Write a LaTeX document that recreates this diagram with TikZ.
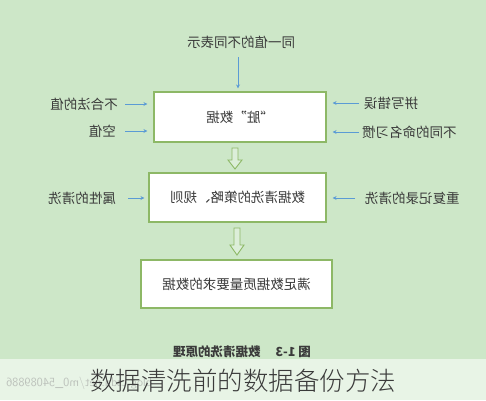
\documentclass[tikz,border=0pt]{standalone}
\usepackage{fontspec}
\usepackage{graphicx}
\newfontfamily\cjk{Noto Sans CJK SC}
\newfontfamily\cjklight{Noto Sans CJK SC Light}
\definecolor{bgc}{HTML}{CDE7C8}
\definecolor{boxc}{HTML}{8DB866}
\definecolor{arrc}{HTML}{5B9BD5}
\definecolor{txtc}{HTML}{3A3A3A}
\newcommand{\mirtext}[1]{\reflectbox{#1}}
\usetikzlibrary{arrows.meta}
\tikzset{
  every node/.style={font=\cjk\fontsize{13.5}{15}\selectfont, text=txtc},
  bx/.style={draw=boxc, line width=1.1pt, fill=white, inner sep=0pt},
  lab/.style={inner sep=0pt},
  thin arrow/.style={draw=arrc, line width=0.8pt, -{Stealth[length=4pt,width=4pt]}},
  hollow/.style={draw=boxc, line width=0.9pt, fill=bgc!70!white}
}
\begin{document}
\begin{tikzpicture}[x=1pt,y=-1pt]
\useasboundingbox (0,0) rectangle (486,400);
\fill[bgc] (0,0) rectangle (486,400);
% boxes
\node[bx, minimum width=172pt, minimum height=50pt] (b1) at (240,117) {\mirtext{“脏”数据}};
\node[bx, minimum width=177pt, minimum height=49pt] (b2) at (237.5,197.5) {\mirtext{数据清洗的策略、规则}};
\node[bx, minimum width=191pt, minimum height=48pt] (b3) at (236.5,284) {\mirtext{满足数据质量要求的数据}};
% top label
\node[lab] (top) at (241,42) {\mirtext{同一值的不同表示}};
\coordinate (topstart) at (238,57);
\draw[thin arrow, shorten >=3pt] (topstart) -- (topstart |- b1.north);
% left labels of b1
\node[lab, anchor=east] (l1) at (118,104) {\mirtext{不合法的值}};
\node[lab, anchor=east] (l2) at (116,131) {\mirtext{空值}};
\draw[thin arrow, shorten <=7pt, shorten >=6pt] (l1.east) -- (l1.east -| b1.west);
\draw[thin arrow, shorten <=9pt, shorten >=6pt] (l2.east) -- (l2.east -| b1.west);
% right labels of b1
\node[lab, anchor=west] (r1) at (364,103) {\mirtext{拼写错误}};
\node[lab, anchor=west] (r2) at (362,132) {\mirtext{不同的命名习惯}};
\draw[thin arrow, shorten <=5pt, shorten >=6pt] (r1.west) -- (r1.west -| b1.east);
\draw[thin arrow, shorten <=3pt, shorten >=6pt] (r2.west) -- (r2.west -| b1.east);
% labels of b2
\node[lab, anchor=east] (l3) at (116,198) {\mirtext{属性的清洗}};
\node[lab, anchor=west] (r3) at (365,198) {\mirtext{重复记录的清洗}};
\draw[thin arrow, shorten <=12pt, shorten >=4pt] (l3.east) -- (l3.east -| b2.west);
\draw[thin arrow, shorten <=10pt, shorten >=6pt] (r3.west) -- (r3.west -| b2.east);
% hollow arrows
\draw[hollow] (232,148) -- (238,148) -- (238,160) -- (242,160) -- (235,169) -- (228,160) -- (232,160) -- cycle;
\draw[hollow] (234,228) -- (240,228) -- (240,245) -- (244,245) -- (237,255) -- (230,245) -- (234,245) -- cycle;
% caption
\node[lab, font=\cjk\bfseries\fontsize{12.5}{14}\selectfont] (cap) at (242,352) {\mirtext{图 1-3\hspace{1.2em}数据清洗的原理}};
% banner
\fill[white, opacity=0.55] (0,359) rectangle (486,400);
\node[lab, anchor=west, text=black!40, font=\fontsize{12.5}{14}\selectfont\sffamily, opacity=0.55] (wm) at (6,383) {\mirtext{blog.csdn.net/m0\_54089886}};
\node[lab, text=txtc, font=\cjklight\fontsize{25.5}{28}\selectfont] (title) at (243,381) {数据清洗前的数据备份方法};
\end{tikzpicture}
\end{document}
